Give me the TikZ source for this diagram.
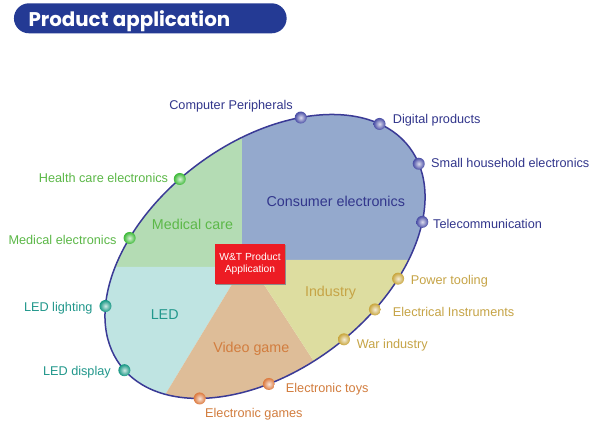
\documentclass[tikz,border=0pt]{standalone}
\usepackage{fontspec}
\setmainfont{Liberation Sans}
\newfontfamily\titlefont{Poppins}
\usetikzlibrary{calc}
\definecolor{titleblue}{RGB}{36,58,148}
\definecolor{rimblue}{RGB}{58,58,150}
\definecolor{fillblue}{RGB}{148,169,205}
\definecolor{fillgreen}{RGB}{180,220,180}
\definecolor{fillcyan}{RGB}{191,228,226}
\definecolor{filltan}{RGB}{222,189,152}
\definecolor{fillyellow}{RGB}{221,221,160}
\definecolor{txtnavy}{RGB}{50,54,140}
\definecolor{txtgreen}{RGB}{92,184,72}
\definecolor{txtteal}{RGB}{34,152,140}
\definecolor{txtorange}{RGB}{210,125,62}
\definecolor{txtgold}{RGB}{198,164,70}
\definecolor{boxred}{RGB}{237,28,36}
\definecolor{dotnavy}{RGB}{72,76,165}
\definecolor{dotgreen}{RGB}{60,185,55}
\definecolor{dotteal}{RGB}{20,150,130}
\definecolor{dotorange}{RGB}{220,120,60}
\definecolor{dotgold}{RGB}{200,165,60}
\tikzset{
  outlbl/.style={inner sep=0pt, font=\fontsize{12.7}{15}\selectfont},
  inlbl/.style={inner sep=0pt, font=\fontsize{14.3}{17}\selectfont},
  balldot/.style={circle, minimum size=12pt, inner sep=0pt,
    inner color=white!80!#1, outer color=#1},
}
\begin{document}
\begin{tikzpicture}[x=1pt,y=1pt]
\useasboundingbox (0,0) rectangle (600,430);
\fill[white] (0,0) rectangle (600,430);

% title
\node[fill=titleblue, rounded corners=15pt, minimum width=272.7pt, minimum height=30pt, inner sep=0pt] (title) at (150.3,411.7) {};
\node[anchor=base west, inner sep=0pt, text=white, font=\titlefont\bfseries\fontsize{19.8}{22}\selectfont] (titletext) at (28.3,403.3) {Product application};

\coordinate (C) at (265,173.5);

% sectors
\begin{scope}
\clip[rotate around={37:(C)}] (C) ellipse [x radius=181pt, y radius=114pt];
\fill[fillblue] (242,170) -- (242,430) -- (600,430) -- (600,170) -- cycle;
\fill[fillgreen] (242,163) -- (242,430) -- (0,430) -- (0,163) -- cycle;
\fill[fillcyan] (0,163) -- (242.5,163) -- (110.5,-55) -- (0,-55) -- cycle;
\fill[filltan] (242.5,163) -- (110.5,-55) -- (413,-84) -- (248.1,170) -- (242,170) -- cycle;
\fill[fillyellow] (248.1,170) -- (600,170) -- (600,-84) -- (413,-84) -- cycle;
\end{scope}
\draw[rimblue, line width=1.5pt, rotate around={37:(C)}] (C) ellipse [x radius=181pt, y radius=114pt];

% dot positions on the ellipse
\begin{scope}[shift={(265,173.5)}, rotate=37]
\coordinate (pComp) at ({181*cos(51.7)},{114*sin(51.7)});
\coordinate (pDig) at ({181*cos(18.9)},{114*sin(18.9)});
\coordinate (pSmall) at ({181*cos(-9.3)},{114*sin(-9.3)});
\coordinate (pTel) at ({181*cos(-36)},{114*sin(-36)});
\coordinate (pPow) at ({181*cos(-59.1)},{114*sin(-59.1)});
\coordinate (pElec) at ({181*cos(-72)},{114*sin(-72)});
\coordinate (pWar) at ({181*cos(-85.8)},{114*sin(-85.8)});
\coordinate (pToys) at ({181*cos(-114)},{114*sin(-114)});
\coordinate (pGames) at ({181*cos(-139.5)},{114*sin(-139.5)});
\coordinate (pDisp) at ({181*cos(-176.9)},{114*sin(-176.9)});
\coordinate (pLight) at ({181*cos(150.3)},{114*sin(150.3)});
\coordinate (pMed) at ({181*cos(122.4)},{114*sin(122.4)});
\coordinate (pHealth) at ({181*cos(96.8)},{114*sin(96.8)});
\end{scope}

\node[balldot=dotnavy] (dComp) at (pComp) {};
\node[balldot=dotnavy] (dDig) at (pDig) {};
\node[balldot=dotnavy] (dSmall) at (pSmall) {};
\node[balldot=dotnavy] (dTel) at (pTel) {};
\node[balldot=dotgold] (dPow) at (pPow) {};
\node[balldot=dotgold] (dElec) at (pElec) {};
\node[balldot=dotgold] (dWar) at (pWar) {};
\node[balldot=dotorange] (dToys) at (pToys) {};
\node[balldot=dotorange] (dGames) at (pGames) {};
\node[balldot=dotteal] (dDisp) at (pDisp) {};
\node[balldot=dotteal] (dLight) at (pLight) {};
\node[balldot=dotgreen] (dMed) at (pMed) {};
\node[balldot=dotgreen] (dHealth) at (pHealth) {};

% inner labels
\node[inlbl, text=txtnavy] (lConsumer) at (335.8,229) {Consumer electronics};
\node[inlbl, text=txtgreen] (lMedical) at (192.5,205.7) {Medical care};
\node[inlbl, text=txtteal] (lLED) at (164.7,115.7) {LED};
\node[inlbl, text=txtorange] (lVideo) at (251.3,80.7) {Video game};
\node[inlbl, text=txtgold] (lIndustry) at (330.5,137) {Industry};

% centre box
\fill[black!45] (216,145) rectangle (286,185);
\node[fill=boxred, minimum width=70pt, minimum height=40pt, inner sep=0pt, text=white, align=center, font=\fontsize{10.3}{12.4}\selectfont] (center) at (250,166) {W\&T Product\\Application};

% outer labels
\node[outlbl, text=txtnavy, anchor=east] (tComp) at (293,323.3) {Computer Peripherals};
\node[outlbl, text=txtnavy, anchor=west] (tDig) at (392.7,309.3) {Digital products};
\node[outlbl, text=txtnavy, anchor=west] (tSmall) at (431,267) {Small household electronics};
\node[outlbl, text=txtnavy, anchor=west] (tTel) at (433,206) {Telecommunication};
\node[outlbl, text=txtgold, anchor=west] (tPow) at (410.7,149) {Power tooling};
\node[outlbl, text=txtgold, anchor=west] (tElec) at (392.7,117.7) {Electrical Instruments};
\node[outlbl, text=txtgold, anchor=west] (tWar) at (356.7,85) {War industry};
\node[outlbl, text=txtorange, anchor=west] (tToys) at (285.7,41) {Electronic toys};
\node[outlbl, text=txtorange, anchor=west] (tGames) at (205,16) {Electronic games};
\node[outlbl, text=txtteal, anchor=east] (tDisp) at (111,58) {LED display};
\node[outlbl, text=txtteal, anchor=east] (tLight) at (92.7,121.3) {LED lighting};
\node[outlbl, text=txtgreen, anchor=east] (tMed) at (116.7,190) {Medical electronics};
\node[outlbl, text=txtgreen, anchor=east] (tHealth) at (168.3,251.7) {Health care electronics};
\end{tikzpicture}
\end{document}
